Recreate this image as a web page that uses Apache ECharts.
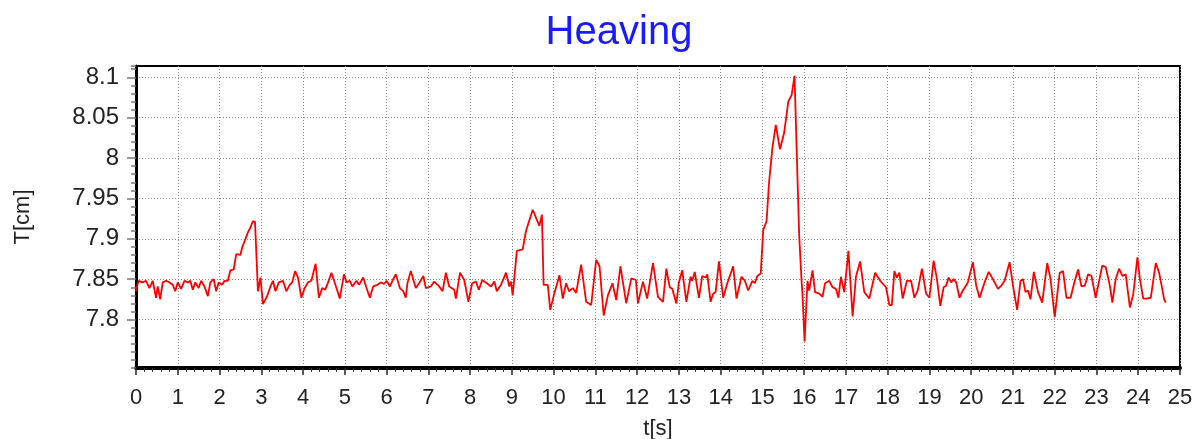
<!DOCTYPE html>
<html>
<head>
<meta charset="utf-8">
<script src="https://cdn.jsdelivr.net/npm/echarts@6/dist/echarts.min.js"></script>
<style>html,body{margin:0;padding:0;background:#fff;}#c{width:1195px;height:439px;}</style>
</head>
<body>
<div id="c"></div>
<script>
const titleText = 'Heaving';
const xName = 't[s]';
const yName = 'T[cm]';
const yTicks = [7.8, 7.85, 7.9, 7.95, 8, 8.05, 8.1];
const yLabels = ['7.8', '7.85', '7.9', '7.95', '8', '8.05', '8.1'];

const times = [
0,0.06,0.16,0.24,0.32,0.40,0.48,0.52,0.58,0.64,0.72,0.80,0.88,0.94,1.00,1.08,1.16,1.24,1.30,1.36,1.42,1.50,1.56,1.64,1.72,1.78,1.86,1.92,1.98,2.06,2.12,2.20,2.26,2.34,2.40,2.50,2.54,2.60,2.68,2.74,2.80,2.85,2.92,2.98,3.04,3.14,3.22,3.28,3.34,3.42,3.52,3.60,3.68,3.74,3.81,3.88,3.96,4.04,4.12,4.20,4.30,4.38,4.46,4.53,4.60,4.68,4.80,4.88,4.98,5.04,5.12,5.18,5.28,5.34,5.44,5.52,5.60,5.68,5.78,5.86,5.94,6.00,6.08,6.16,6.22,6.32,6.40,6.46,
6.50,6.58,6.70,6.78,6.88,6.94,7.06,7.14,7.26,7.34,7.42,7.50,7.62,7.66,7.76,7.86,7.96,8.05,8.14,8.21,8.29,8.40,8.50,8.58,8.64,8.74,8.86,8.94,8.98,9.02,9.12,9.26,9.34,9.50,9.58,9.66,9.72,9.76,9.86,9.92,10.02,10.14,10.22,10.30,10.37,10.46,10.54,10.66,10.78,10.90,11.02,11.10,11.20,11.30,11.41,11.50,11.60,11.74,11.86,11.97,12.02,12.14,12.24,12.38,12.50,12.62,
12.70,12.78,12.84,12.94,13.00,13.08,13.18,13.28,13.32,13.38,13.48,13.56,13.64,13.68,13.76,13.82,13.88,13.96,14.06,14.16,14.30,14.38,14.50,14.58,14.66,14.76,14.82,14.88,14.96,15.02,15.10,15.16,15.24,15.32,15.42,15.52,15.62,15.70,15.77,15.82,15.88,15.94,15.96,16.01,16.08,16.12,16.20,16.26,16.36,16.44,16.50,16.60,16.68,16.76,16.82,16.88,16.96,17.06,17.16,17.24,17.34,17.44,17.56,17.70,17.82,17.96,18.04,18.10,18.16,18.22,18.28,18.36,18.46,18.56,18.64,18.72,18.82,18.92,
19.00,19.10,19.18,19.26,19.34,19.40,19.46,19.52,19.58,19.64,19.72,19.80,19.92,20.04,20.12,20.20,20.32,20.42,20.52,20.64,20.72,20.80,20.92,21.00,21.10,21.18,21.24,21.30,21.36,21.42,21.50,21.60,21.70,21.82,21.90,22.00,22.12,22.20,22.28,22.38,22.46,22.56,22.64,22.72,22.80,22.88,22.98,23.04,23.14,23.22,23.32,23.38,23.46,23.54,23.62,23.70,23.80,23.88,23.98,24.04,24.12,24.20,24.30,24.42,24.50,24.56,24.62,24.66
];

const heave = [
7.835,7.848,7.846,7.848,7.839,7.848,7.827,7.841,7.825,7.846,7.848,7.846,7.843,7.835,7.846,7.838,7.848,7.846,7.848,7.837,7.846,7.839,7.848,7.841,7.829,7.846,7.850,7.835,7.846,7.843,7.848,7.848,7.861,7.862,7.881,7.880,7.889,7.897,7.908,7.914,7.922,7.921,7.835,7.852,7.819,7.829,7.841,7.848,7.835,7.846,7.848,7.835,7.843,7.846,7.860,7.852,7.827,7.839,7.846,7.848,7.869,7.827,7.839,7.837,7.846,7.858,7.839,7.826,7.856,7.846,7.848,7.841,7.848,7.843,7.852,7.839,7.827,7.841,7.843,7.846,7.844,7.848,7.841,7.850,7.856,7.839,7.835,7.827,
7.845,7.860,7.839,7.845,7.854,7.839,7.841,7.847,7.841,7.835,7.858,7.841,7.837,7.826,7.858,7.849,7.822,7.845,7.847,7.837,7.849,7.845,7.841,7.847,7.835,7.843,7.858,7.841,7.847,7.830,7.885,7.887,7.910,7.936,7.926,7.916,7.930,7.843,7.843,7.812,7.833,7.855,7.826,7.845,7.835,7.839,7.833,7.868,7.822,7.818,7.874,7.866,7.805,7.830,7.845,7.824,7.866,7.820,7.851,7.849,7.820,7.847,7.826,7.870,7.828,7.822,
7.863,7.840,7.838,7.820,7.846,7.861,7.822,7.853,7.848,7.859,7.827,7.854,7.852,7.856,7.822,7.832,7.834,7.872,7.827,7.845,7.866,7.826,7.853,7.848,7.836,7.848,7.845,7.854,7.857,7.911,7.922,7.970,8.013,8.041,8.011,8.031,8.070,8.078,8.102,8.011,7.905,7.846,7.832,7.773,7.848,7.836,7.861,7.834,7.832,7.828,7.845,7.848,7.840,7.838,7.827,7.853,7.834,7.885,7.804,7.853,7.872,7.834,7.826,7.858,7.848,7.840,7.818,7.818,7.860,7.852,7.858,7.826,7.848,7.848,7.827,7.836,7.863,7.832,
7.827,7.873,7.850,7.817,7.840,7.842,7.852,7.846,7.850,7.846,7.827,7.836,7.846,7.871,7.842,7.827,7.846,7.859,7.850,7.838,7.842,7.848,7.871,7.842,7.812,7.848,7.850,7.834,7.836,7.825,7.859,7.834,7.821,7.870,7.850,7.803,7.858,7.860,7.827,7.827,7.844,7.862,7.841,7.842,7.856,7.854,7.827,7.842,7.867,7.865,7.842,7.821,7.850,7.863,7.854,7.856,7.815,7.831,7.877,7.850,7.826,7.826,7.827,7.870,7.858,7.842,7.825,7.821
];

const pts = times.map((t, i) => [t, heave[i]]);
const chart = echarts.init(document.getElementById('c'), null, {renderer: 'canvas'});
const font = '"Liberation Sans", Arial, sans-serif';
chart.setOption({
  animation: false,
  backgroundColor: '#fff',
  title: {
    text: titleText, left: 614, top: 8, textAlign: 'center',
    textStyle: {color: '#1a1aff', fontSize: 40, fontWeight: 'normal', fontFamily: font}
  },
  grid: {left: 136, right: 15, top: 66, bottom: 71, show: true, borderColor: '#000', borderWidth: 2,
    containLabel: false, outerBoundsMode: 'none'},
  xAxis: {
    type: 'value', min: 0, max: 25, interval: 1,
    name: xName, nameLocation: 'middle', nameGap: 50,
    nameTextStyle: {color: '#222', fontSize: 22, fontFamily: font},
    axisLine: {show: true, onZero: false, lineStyle: {color: '#000', width: 4}},
    axisTick: {show: true, length: 7, lineStyle: {color: '#222', width: 1.5}},
    minorTick: {show: true, splitNumber: 5, length: 4, lineStyle: {color: '#333', width: 1}},
    axisLabel: {color: '#222', fontSize: 22, fontFamily: font, margin: 19},
    splitLine: {show: true, lineStyle: {color: '#888', width: 1, type: [1, 2]}}
  },
  yAxis: [{
    type: 'value', min: 7.74, max: 8.114,
    name: yName, nameLocation: 'middle', nameGap: 102, nameRotate: 90,
    nameTextStyle: {color: '#222', fontSize: 22, fontFamily: font},
    axisLine: {show: true, onZero: false, lineStyle: {color: '#000', width: 3}},
    axisTick: {show: true, length: 9, customValues: yTicks, lineStyle: {color: '#777', width: 1.5}},
    axisLabel: {color: '#222', fontSize: 24, fontFamily: font, margin: 17, customValues: yTicks,
      formatter: v => { const i = yTicks.findIndex(t => Math.abs(t - v) < 1e-6); return i >= 0 ? yLabels[i] : ''; }},
    splitLine: {show: true, lineStyle: {color: '#888', width: 1, type: [1, 2]}}
  }, {
    type: 'value', min: 7.74, max: 8.114, interval: 0.01, position: 'left',
    axisLine: {show: false}, axisLabel: {show: false}, splitLine: {show: false},
    axisTick: {show: true, length: 5, lineStyle: {color: '#777', width: 1.5}}
  }],
  series: [{
    type: 'line', data: pts, showSymbol: false, symbol: 'none',
    lineStyle: {color: '#ff0000', width: 1.8}, z: 3
  }]
});
</script>
</body>
</html>
